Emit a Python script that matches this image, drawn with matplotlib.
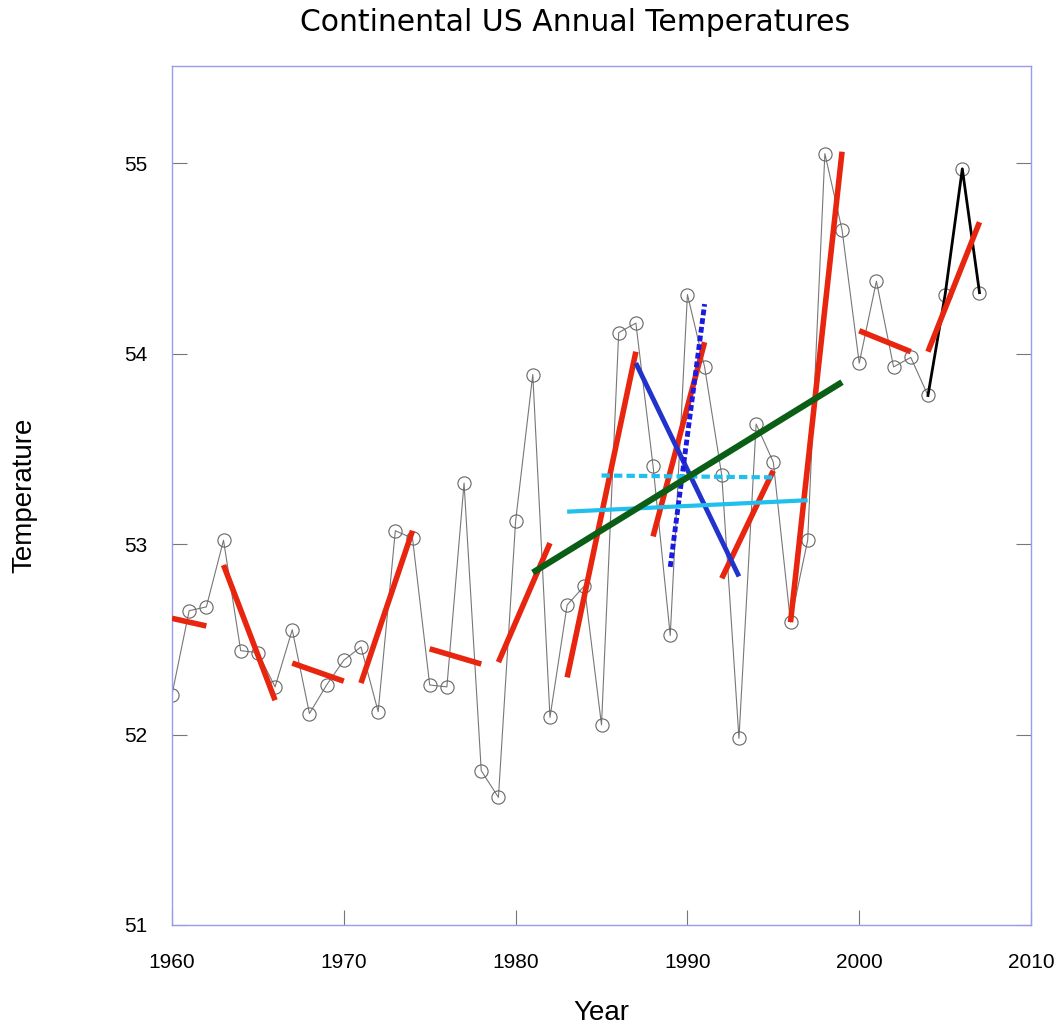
import numpy as np
import matplotlib.pyplot as plt

years = list(range(1960, 2008))
temps = [52.21, 52.65, 52.67, 53.02, 52.44, 52.43, 52.25, 52.55, 52.11, 52.26,
         52.39, 52.46, 52.12, 53.07, 53.03, 52.26, 52.25, 53.32, 51.81, 51.67,
         53.12, 53.89, 52.09, 52.68, 52.78, 52.05, 54.11, 54.16, 53.41, 52.52,
         54.31, 53.93, 53.36, 51.98, 53.63, 53.43, 52.59, 53.02, 55.05, 54.65,
         53.95, 54.38, 53.93, 53.98, 53.78, 54.31, 54.97, 54.32]

# short red trend pieces: (start year, end year, start value, end value)
red_x0 = [1960, 1963, 1967, 1971, 1975, 1979, 1983, 1988, 1992, 1996, 2000, 2004]
red_x1 = [1962, 1966, 1970, 1974, 1978, 1982, 1987, 1991, 1995, 1999, 2003, 2007]
red_y0 = [52.61, 52.89, 52.375, 52.27, 52.45, 52.38, 52.30, 53.04, 52.82, 52.59, 54.12, 54.01]
red_y1 = [52.57, 52.18, 52.28, 53.07, 52.37, 53.005, 54.01, 54.06, 53.385, 55.06, 54.01, 54.69]

blue_x, blue_y = [1987, 1993], [53.95, 52.83]
dot_x, dot_y = [1989, 1991], [52.88, 54.26]
cyan_x, cyan_y = [1983, 1997], [53.17, 53.23]
cdash_x, cdash_y = [1985, 1995], [53.36, 53.35]
green_x, green_y = [1981, 1999], [52.85, 53.85]

sans = ["Liberation Sans", "DejaVu Sans"]

fig = plt.figure(figsize=(10.59, 10.25), dpi=100)
ax = fig.add_axes([0.1624, 0.0976, 0.8112, 0.838])

ax.plot(years, temps, color="#777777", lw=0.8, marker="o", ms=9.5,
        mfc="none", mec="#666666", mew=0.8, zorder=2)
ax.plot(years[-4:], temps[-4:], color="black", lw=2, zorder=3)

for a, b, c, d in zip(red_x0, red_x1, red_y0, red_y1):
    ax.plot([a, b], [c, d], color="#e8250f", lw=4, solid_capstyle="butt", zorder=4)

ax.plot(blue_x, blue_y, color="#2233cc", lw=3.5, solid_capstyle="butt", zorder=5)
ax.plot(dot_x, dot_y, color="#1a1ae0", lw=3.5, linestyle=(0, (1.2, 0.6)), zorder=5)
ax.plot(cyan_x, cyan_y, color="#1fbfee", lw=3, solid_capstyle="butt", zorder=5)
ax.plot(cdash_x, cdash_y, color="#1fbfee", lw=3, linestyle=(0, (2, 1)), zorder=5)
ax.plot(green_x, green_y, color="#0b5e16", lw=4.5, solid_capstyle="butt", zorder=6)

ax.set_xlim(1960, 2010)
ax.set_ylim(51, 55.51)
ax.set_xticks([1960, 1970, 1980, 1990, 2000, 2010])
ax.set_yticks([51, 52, 53, 54, 55])

for s in ax.spines.values():
    s.set_color("#9a9aee")
    s.set_linewidth(1)

ax.tick_params(direction="in", length=11, width=0.8, color="#777777",
               labelsize=15, right=True)
ax.tick_params(axis="x", pad=20)
ax.tick_params(axis="y", pad=18)
for lab in ax.get_xticklabels() + ax.get_yticklabels():
    lab.set_family(sans)

ax.set_xlabel("Year", fontsize=20, family=sans, labelpad=20)
ax.set_ylabel("Temperature", fontsize=20, family=sans, labelpad=62)
ax.set_title("Continental US Annual Temperatures", fontsize=21.5, x=0.469, pad=25)

fig.savefig("out.png", dpi=100)
